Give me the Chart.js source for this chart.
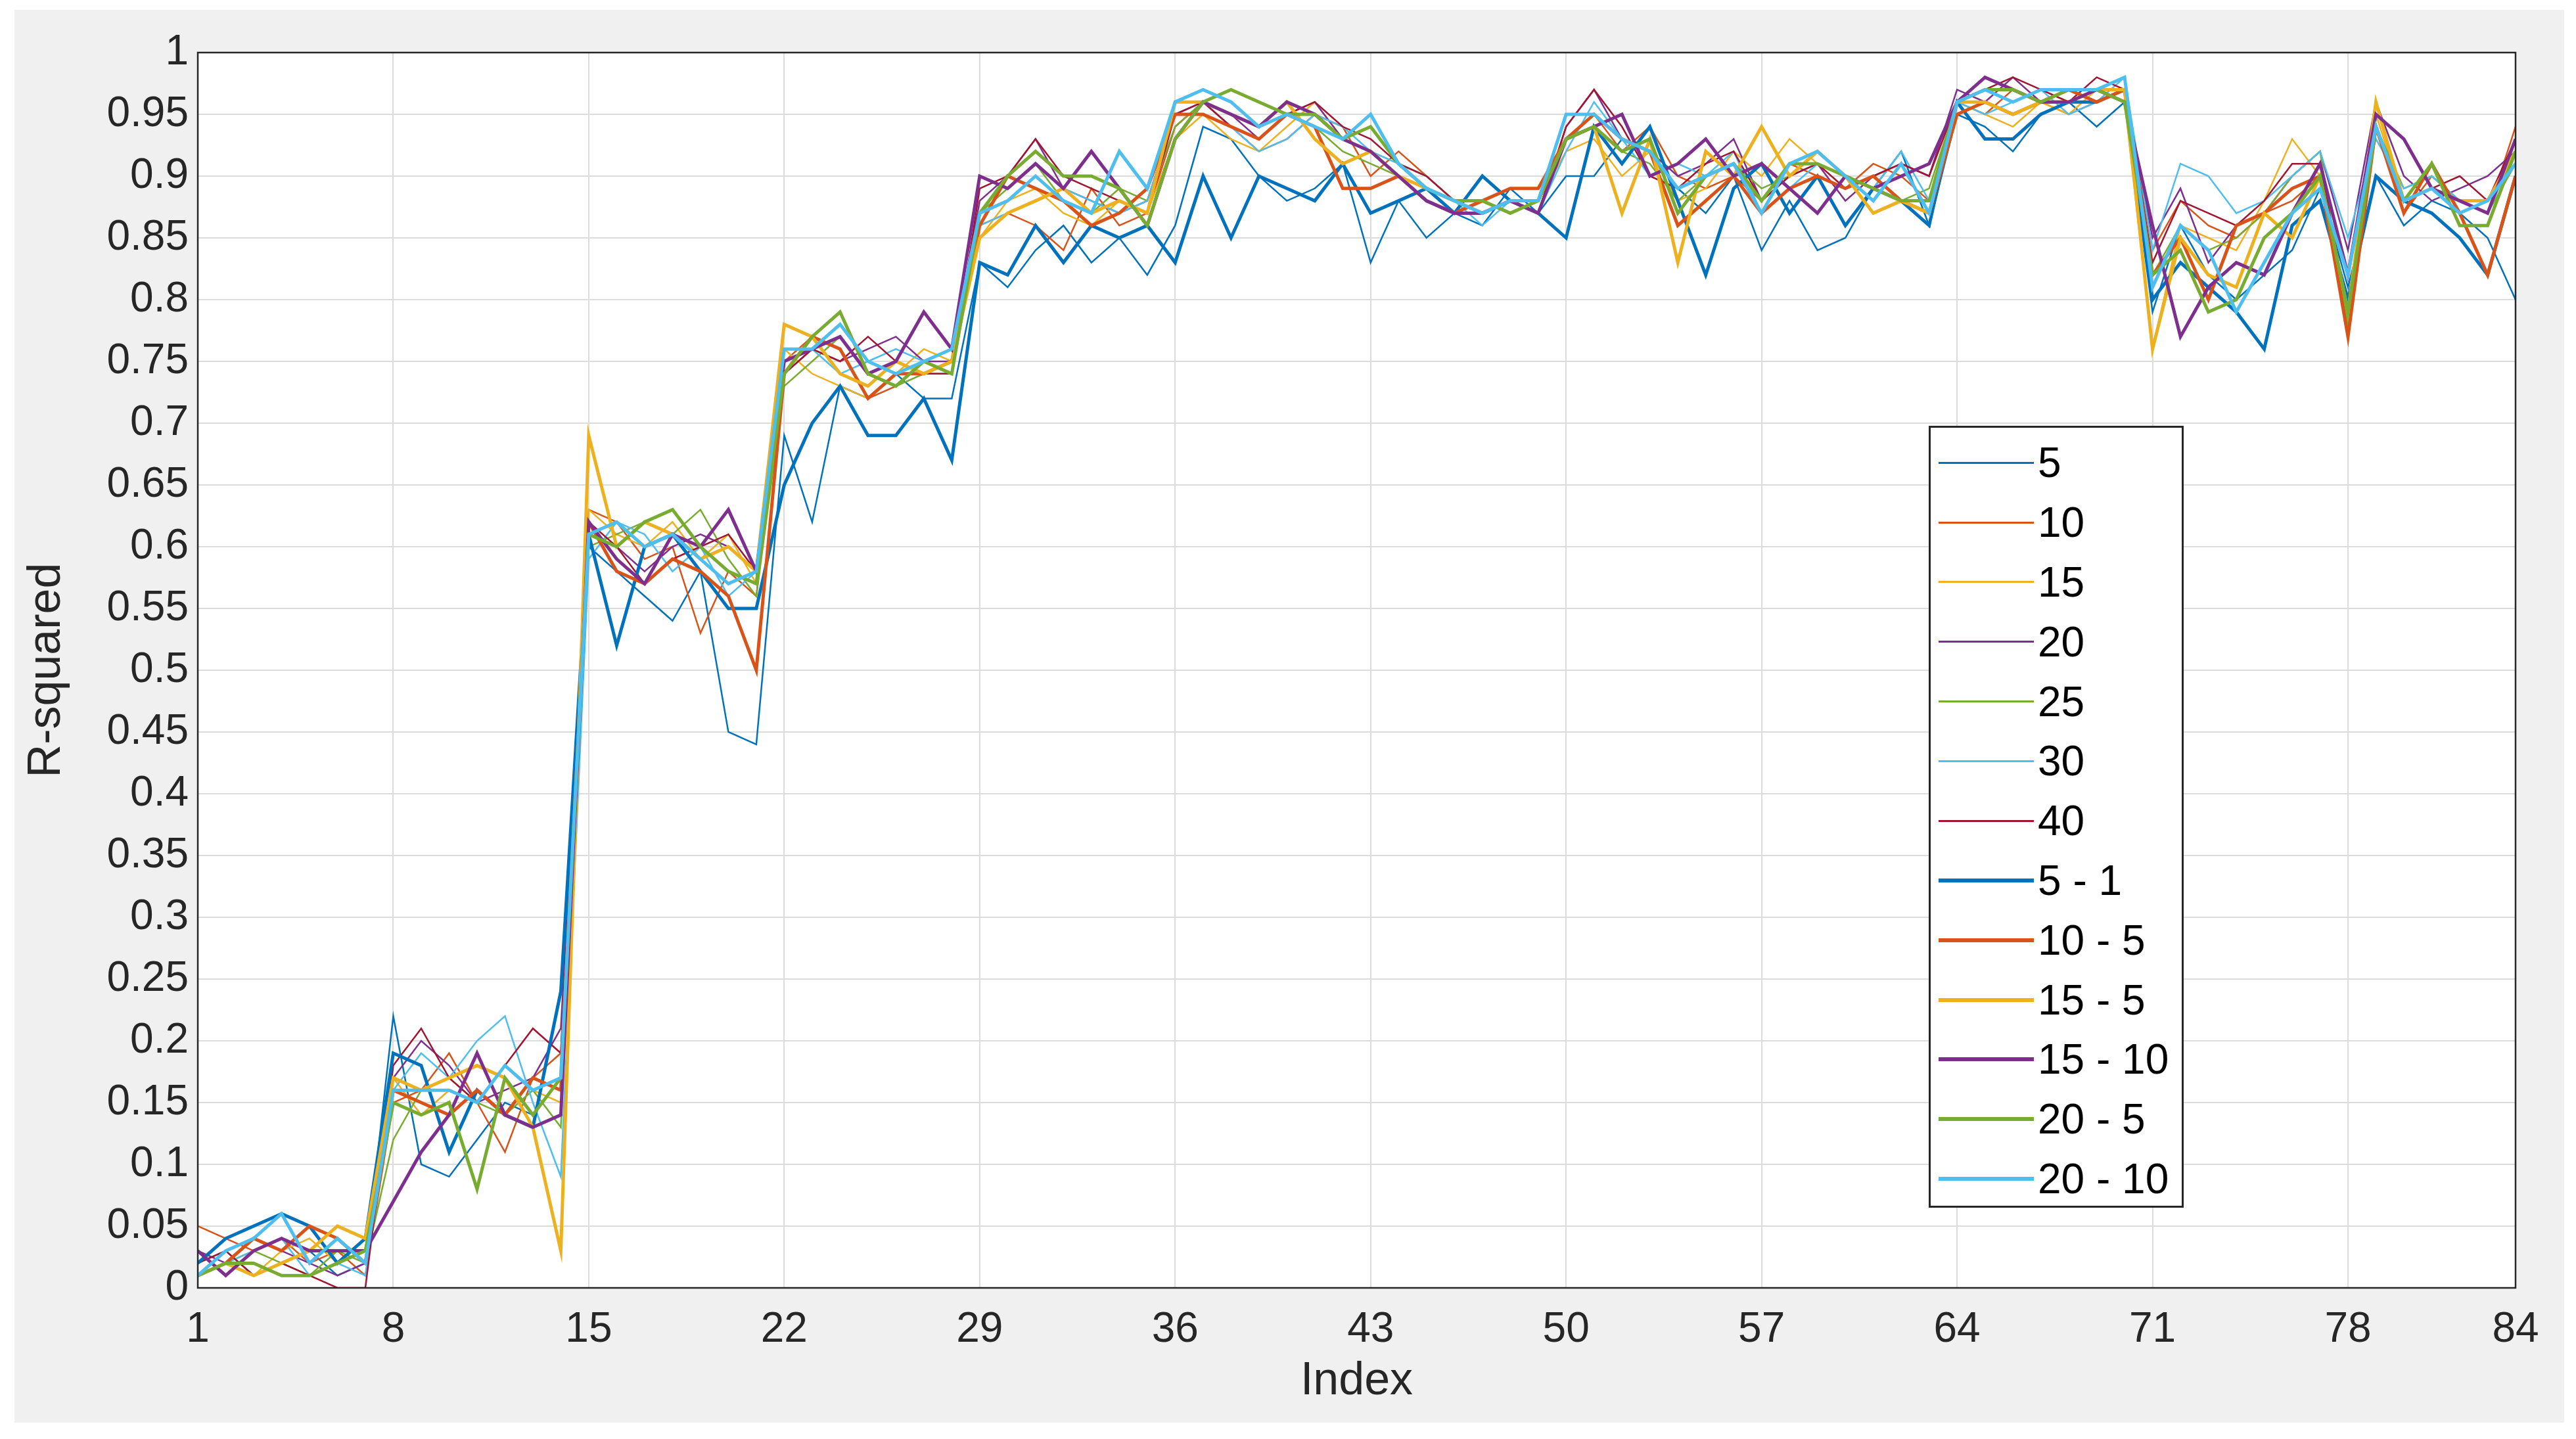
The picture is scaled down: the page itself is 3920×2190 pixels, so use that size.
<!DOCTYPE html>
<html>
<head>
<meta charset="utf-8">
<script src="https://cdn.jsdelivr.net/npm/chart.js@4"></script>
<style>
  body { margin: 0; background: #ffffff; font-family: "Liberation Sans", Arial, sans-serif; }
  #wrap { position: absolute; left: 0; top: 0; width: 3920px; height: 2190px; }
  #frame { position: absolute; left: 22px; top: 15px; width: 3880px; height: 2150px; background: #f0f0f0; }
  #legend { position: absolute; left: 2935px; top: 648px; width: 388px; height: 1190px; background: #fff;
            border: 3px solid #262626; box-sizing: border-box; padding-top: 8px; }
  .item { height: 90.8px; display: flex; align-items: center; font-size: 64px; color: #000; }
  .swatch { width: 145px; margin-left: 12px; margin-right: 6px; }
</style>
</head>
<body>
<div id="wrap">
  <div id="frame"></div>
  <canvas id="chart" width="3920" height="2190" style="position:absolute;left:0;top:0;width:3920px;height:2190px"></canvas>
  <div id="legend"></div>
</div>
<script>
// Series names and colours (MATLAB default order)
const seriesNames = ['5', '10', '15', '20', '25', '30', '40', '5 - 1', '10 - 5', '15 - 5', '15 - 10', '20 - 5', '20 - 10'];
const seriesColors = ['#0072BD', '#D95319', '#EDB120', '#7E2F8E', '#77AC30', '#4DBEEE', '#A2142F',
                      '#0072BD', '#D95319', '#EDB120', '#7E2F8E', '#77AC30', '#4DBEEE'];
const xTicks = [1, 8, 15, 22, 29, 36, 43, 50, 57, 64, 71, 78, 84];

const s5 = [.02,.03,.01,.02,.03,.01,.02, .22,.10,.09,.12,.15,.14,.17, .60,.58,.56,.54,.58,.45,.44, .69,.62,.73,.72,.74,.72,.72,
  .83,.81,.84,.86,.83,.85,.82, .86,.94,.93,.90,.88,.89,.91,.83,.88,.85,.87,.86,.89,.87,
  .90,.90,.93,.92,.89,.87,.90,.84,.88,.84,.85,.89,.92,.86, .95,.94,.92,.95,.96,.94,.96,
  .79,.86,.82,.80,.82,.84,.89,.81,.90,.86,.88,.87,.85,.80];
const s10 = [.05,.04,.03,.04,.02,.03,.01, .15,.16,.19,.15,.11,.17,.19, .63,.62,.59,.60,.53,.58,.56, .75,.77,.76,.72,.73,.75,.74,
  .86,.87,.86,.84,.89,.86,.87, .94,.96,.94,.92,.93,.95,.94,.90,.92,.90,.88,.87,.88,.87,
  .93,.95,.92,.94,.90,.89,.90,.88,.91,.90,.89,.91,.90,.88, .96,.95,.97,.96,.95,.96,.97,
  .84,.88,.86,.85,.87,.88,.90,.78,.94,.87,.90,.88,.87,.94];
const s15 = [.01,.02,.01,.03,.04,.02,.03, .17,.14,.16,.15,.18,.16,.15, .63,.61,.60,.62,.59,.61,.57, .76,.74,.73,.72,.74,.76,.75,
  .85,.88,.89,.87,.86,.88,.87, .93,.95,.93,.92,.94,.96,.93,.92,.91,.90,.88,.87,.88,.88,
  .92,.93,.90,.92,.88,.89,.92,.90,.93,.91,.90,.89,.88,.87, .96,.95,.94,.96,.95,.97,.96,
  .76,.86,.85,.84,.88,.93,.90,.77,.95,.88,.89,.87,.88,.91];
const s20 = [.03,.02,.04,.03,.02,.01,.02, .17,.20,.18,.15,.16,.17,.21, .61,.60,.58,.60,.61,.60,.58, .74,.76,.75,.76,.77,.75,.75,
  .88,.90,.93,.89,.88,.87,.88, .95,.96,.95,.93,.95,.96,.93,.92,.90,.89,.88,.87,.88,.87,
  .94,.97,.93,.92,.90,.91,.93,.88,.90,.91,.88,.90,.91,.90, .97,.96,.98,.96,.97,.96,.97,
  .85,.89,.83,.86,.87,.90,.92,.84,.96,.90,.88,.89,.90,.92];
const s25 = [.01,.02,.03,.02,.01,.03,.02, .12,.16,.17,.15,.14,.16,.13, .60,.61,.62,.61,.63,.59,.56, .73,.75,.77,.74,.73,.74,.74,
  .87,.89,.91,.88,.87,.89,.88, .94,.96,.95,.94,.95,.94,.92,.91,.90,.89,.88,.88,.87,.88,
  .93,.94,.92,.91,.88,.90,.91,.89,.90,.92,.90,.89,.88,.89, .96,.97,.96,.97,.96,.97,.96,
  .82,.86,.84,.85,.87,.90,.92,.78,.94,.89,.90,.88,.87,.91];
const s30 = [.01,.02,.03,.04,.01,.02,.01, .16,.19,.17,.20,.22,.15,.09, .59,.62,.61,.58,.60,.56,.58, .75,.76,.74,.75,.76,.75,.74,
  .86,.87,.88,.89,.88,.87,.88, .95,.96,.94,.92,.93,.95,.94,.92,.91,.90,.88,.86,.88,.87,
  .92,.96,.93,.90,.91,.90,.92,.87,.89,.91,.90,.89,.92,.88, .96,.95,.96,.97,.95,.96,.98,
  .84,.91,.90,.87,.88,.90,.92,.85,.93,.89,.90,.88,.87,.92];
const s40 = [.02,.03,.01,.02,.01,.00,.00, .18,.21,.17,.15,.18,.21,.19, .62,.60,.57,.59,.60,.61,.58, .74,.76,.75,.77,.75,.74,.74,
  .89,.90,.93,.90,.89,.88,.87, .95,.96,.94,.93,.95,.96,.94,.93,.91,.90,.88,.87,.88,.87,
  .94,.97,.94,.90,.89,.91,.92,.88,.90,.91,.89,.90,.91,.90, .96,.97,.98,.97,.96,.98,.97,
  .83,.88,.87,.86,.88,.91,.91,.79,.94,.88,.89,.90,.88,.93];
const s5_1 = [.02,.04,.05,.06,.05,.02,.04, .19,.18,.11,.16,.14,.13,.24, .61,.52,.60,.61,.58,.55,.55, .65,.70,.73,.69,.69,.72,.67,
  .83,.82,.86,.83,.86,.85,.86, .83,.90,.85,.90,.89,.88,.91,.87,.88,.89,.87,.90,.88,.87,
  .85,.94,.91,.94,.88,.82,.89,.91,.87,.90,.86,.89,.88,.86, .96,.93,.93,.95,.96,.96,.97,
  .80,.83,.81,.79,.76,.86,.88,.80,.90,.88,.87,.85,.82,.90];
const s10_5 = [.01,.02,.04,.03,.05,.04,.02, .16,.15,.14,.16,.14,.17,.16, .62,.58,.57,.59,.58,.56,.50, .74,.77,.76,.72,.74,.74,.75,
  .86,.90,.89,.88,.86,.87,.89, .95,.95,.94,.93,.95,.94,.89,.89,.90,.88,.87,.88,.89,.89,
  .93,.95,.93,.92,.86,.88,.90,.87,.89,.90,.89,.90,.88,.87, .95,.96,.95,.96,.97,.96,.97,
  .82,.85,.80,.86,.87,.89,.90,.77,.94,.87,.91,.87,.82,.90];
const s15_5 = [.01,.02,.01,.02,.03,.05,.04, .17,.16,.17,.18,.17,.13,.03, .69,.60,.62,.61,.59,.60,.58, .78,.77,.74,.73,.75,.74,.75,
  .85,.87,.88,.89,.87,.88,.87, .96,.96,.95,.94,.96,.93,.91,.92,.90,.89,.88,.87,.88,.88,
  .93,.94,.87,.93,.83,.92,.90,.94,.90,.92,.90,.87,.88,.87, .96,.96,.95,.96,.96,.97,.97,
  .76,.85,.82,.81,.87,.85,.90,.79,.96,.88,.89,.88,.88,.92];
const s15_10 = [.03,.01,.03,.04,.03,.03,.03, .07,.11,.14,.19,.14,.13,.14, .62,.59,.57,.61,.60,.63,.58, .75,.76,.77,.74,.75,.79,.76,
  .90,.89,.91,.89,.92,.89,.86, .93,.96,.95,.94,.96,.95,.93,.92,.90,.88,.87,.87,.88,.87,
  .93,.94,.95,.90,.91,.93,.90,.91,.89,.87,.90,.89,.90,.91, .96,.98,.97,.96,.96,.97,.96,
  .86,.77,.81,.83,.82,.87,.91,.82,.95,.93,.89,.88,.87,.93];
const s20_5 = [.01,.02,.02,.01,.01,.02,.03, .15,.14,.15,.08,.17,.14,.17, .61,.60,.62,.63,.60,.58,.57, .74,.77,.79,.74,.73,.75,.74,
  .87,.90,.92,.90,.90,.89,.86, .93,.96,.97,.96,.95,.95,.93,.94,.91,.89,.88,.88,.87,.88,
  .93,.94,.92,.93,.87,.90,.91,.88,.91,.91,.90,.89,.88,.88, .96,.97,.97,.96,.97,.97,.96,
  .82,.84,.79,.80,.85,.87,.90,.79,.94,.88,.91,.86,.86,.92];
const s20_10 = [.01,.03,.04,.06,.02,.04,.02, .16,.16,.16,.15,.18,.16,.17, .61,.62,.60,.61,.59,.57,.58, .76,.76,.78,.75,.74,.75,.76,
  .87,.88,.90,.88,.87,.92,.89, .96,.97,.96,.94,.95,.94,.93,.95,.91,.89,.88,.87,.88,.88,
  .95,.95,.93,.92,.89,.90,.91,.87,.91,.92,.90,.88,.91,.87, .96,.97,.96,.97,.97,.97,.98,
  .81,.86,.84,.79,.83,.87,.89,.82,.94,.88,.89,.87,.88,.91];

const seriesValues = [s5, s10, s15, s20, s25, s30, s40, s5_1, s10_5, s15_5, s15_10, s20_5, s20_10];

const datasets = seriesValues.map((vals, i) => ({
    label: seriesNames[i],
    data: vals.map((v, k) => ({ x: k + 1, y: v })),
    borderColor: seriesColors[i],
    borderWidth: i < 7 ? 2.5 : 5,
    pointRadius: 0,
    tension: 0,
    fill: false,
    order: 13 - i
}));

// White plot area and black box around it
const plotBox = {
    id: 'plotBox',
    beforeDraw(chart) {
        const a = chart.chartArea, ctx = chart.ctx;
        ctx.save();
        ctx.fillStyle = '#ffffff';
        ctx.fillRect(a.left, a.top, a.right - a.left, a.bottom - a.top);
        ctx.restore();
    },
    afterDraw(chart) {
        const a = chart.chartArea, ctx = chart.ctx;
        ctx.save();
        ctx.strokeStyle = '#262626';
        ctx.lineWidth = 2.5;
        ctx.strokeRect(a.left, a.top, a.right - a.left, a.bottom - a.top);
        ctx.restore();
    }
};

const tickFont = { family: '"Liberation Sans", Arial, sans-serif', size: 64 };

new Chart(document.getElementById('chart').getContext('2d'), {
    type: 'line',
    data: { datasets },
    options: {
        responsive: false,
        animation: false,
        layout: { padding: { top: 80, right: 92, left: 0, bottom: 45 } },
        plugins: { legend: { display: false }, tooltip: { enabled: false } },
        scales: {
            x: {
                type: 'linear', min: 1, max: 84,
                afterBuildTicks: s => { s.ticks = xTicks.map(v => ({ value: v })); },
                afterFit: s => { s.height = 185; },
                ticks: { font: tickFont, color: '#262626', autoSkip: false, maxRotation: 0, padding: 26 },
                grid: { color: '#dcdcdc', lineWidth: 2, drawTicks: false },
                border: { display: false },
                title: { display: true, text: 'Index', font: { ...tickFont, size: 70 }, color: '#262626', padding: 0 }
            },
            y: {
                min: 0, max: 1,
                afterFit: s => { s.width = 301; },
                ticks: { stepSize: 0.05, font: tickFont, color: '#262626', padding: 14,
                         callback: v => String(Number(v.toFixed(2))) },
                grid: { color: '#dcdcdc', lineWidth: 2, drawTicks: false },
                border: { display: false },
                title: { display: true, text: 'R-squared', font: { ...tickFont, size: 70 }, color: '#262626', padding: { top: 30, bottom: 0 } }
            }
        }
    },
    plugins: [plotBox]
});

// HTML legend
const legend = document.getElementById('legend');
seriesNames.forEach((name, i) => {
    const row = document.createElement('div');
    row.className = 'item';
    row.innerHTML = `<div class="swatch" style="border-top:${i < 7 ? 3 : 6}px solid ${seriesColors[i]}"></div><span>${name}</span>`;
    legend.appendChild(row);
});
</script>
</body>
</html>
